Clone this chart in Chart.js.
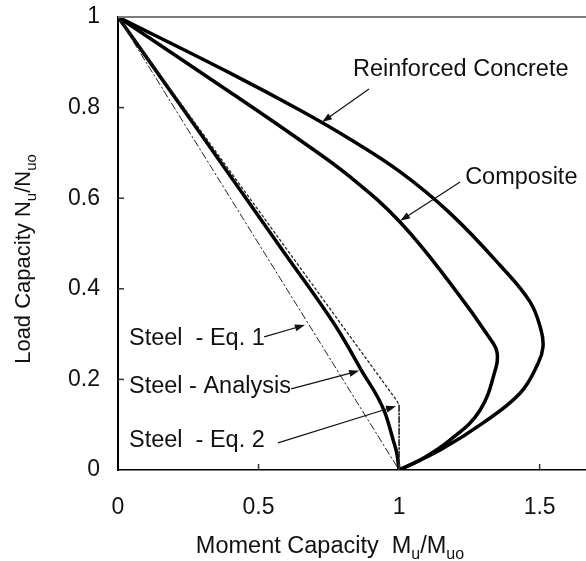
<!DOCTYPE html>
<html>
<head>
<meta charset="utf-8">
<script src="https://cdn.jsdelivr.net/npm/chart.js@4/dist/chart.umd.min.js"></script>
<style>
  html, body { margin: 0; padding: 0; background: #fff; }
  #wrap { width: 586px; height: 561px; }
</style>
</head>
<body>
<div id="wrap"><canvas id="chart" width="586" height="561"></canvas></div>
<script>
// Axis tick values
const xTicks = [0, 0.5, 1, 1.5];
const yTicks = [0, 0.2, 0.4, 0.6, 0.8, 1];

// Interaction curves: [M/Muo, N/Nuo]
const steelEq1 = [[0, 1], [1, 0]];
const steelEq2 = [[0, 1], [0.993, 0.152], [1, 0.143], [1, 0]];
const steelAnalysis = [[0, 1], [0.292, 0.744], [0.584, 0.486], [0.783, 0.309], [0.865, 0.221],
  [0.950, 0.126], [0.979, 0.066], [0.993, 0.033], [1, 0]];
const composite = [[0, 1], [0.399, 0.834], [0.648, 0.728], [0.826, 0.647], [1.004, 0.547],
  [1.181, 0.413], [1.335, 0.280], [1.349, 0.258], [1.345, 0.227], [1.288, 0.132],
  [1.181, 0.066], [1.075, 0.022], [1, 0]];
const reinforcedConcrete = [[0, 1], [0.399, 0.876], [0.648, 0.794], [0.826, 0.730], [1.004, 0.658],
  [1.181, 0.567], [1.359, 0.452], [1.466, 0.371], [1.505, 0.309], [1.512, 0.272],
  [1.495, 0.236], [1.431, 0.170], [1.299, 0.104], [1.146, 0.044], [1, 0]];

// Curve labels with leader arrows, in axis units
const callouts = [
  { text: 'Reinforced Concrete', at: [0.836, 0.883], from: [0.893, 0.841], to: [0.726, 0.768] },
  { text: 'Composite',           at: [1.235, 0.645], from: [1.217, 0.636], to: [1.004, 0.550] },
  { text: 'Steel  - Eq. 1',      at: [0.039, 0.291], from: [0.520, 0.294], to: [0.665, 0.320] },
  { text: 'Steel - Analysis',    at: [0.039, 0.185], from: [0.616, 0.179], to: [0.858, 0.219] },
  { text: 'Steel  - Eq. 2',      at: [0.039, 0.064], from: [0.569, 0.060], to: [0.989, 0.141] }
];

const FONT = '"Liberation Sans", Arial, sans-serif';
const toXY = arr => arr.map(p => ({ x: p[0], y: p[1] }));

function line(data, opts) {
  return Object.assign({
    data: toXY(data), showLine: true, pointRadius: 0, borderColor: '#000',
    backgroundColor: '#000', fill: false, tension: 0.4,
    borderJoinStyle: 'round', borderCapStyle: 'round'
  }, opts);
}

function drawRich(ctx, parts, cx, baseline, size, subSize) {
  const big = size + 'px ' + FONT, small = subSize + 'px ' + FONT;
  let total = 0;
  parts.forEach(p => { ctx.font = p[1] ? small : big; total += ctx.measureText(p[0]).width; });
  let x = cx - total / 2;
  ctx.textAlign = 'left';
  ctx.textBaseline = 'alphabetic';
  parts.forEach(p => {
    ctx.font = p[1] ? small : big;
    ctx.fillText(p[0], x, baseline + (p[1] ? 6 : 0));
    x += ctx.measureText(p[0]).width;
  });
}

function arrow(ctx, x1, y1, x2, y2) {
  const a = Math.atan2(y2 - y1, x2 - x1), len = 10, w = 3.5;
  ctx.beginPath();
  ctx.moveTo(x1, y1);
  ctx.lineTo(x2 - Math.cos(a) * len * 0.8, y2 - Math.sin(a) * len * 0.8);
  ctx.stroke();
  ctx.beginPath();
  ctx.moveTo(x2, y2);
  ctx.lineTo(x2 - Math.cos(a) * len - Math.sin(a) * w, y2 - Math.sin(a) * len + Math.cos(a) * w);
  ctx.lineTo(x2 - Math.cos(a) * len + Math.sin(a) * w, y2 - Math.sin(a) * len - Math.cos(a) * w);
  ctx.closePath();
  ctx.fill();
}

const decorations = {
  id: 'decorations',
  afterDatasetsDraw(chart) {
    const { ctx, chartArea: a, scales: { x, y } } = chart;
    ctx.save();
    // top frame line
    ctx.strokeStyle = '#7a7a7a';
    ctx.lineWidth = 2;
    ctx.beginPath();
    ctx.moveTo(a.left, a.top);
    ctx.lineTo(a.right, a.top);
    ctx.stroke();

    // inward tick marks
    ctx.strokeStyle = '#333';
    ctx.lineWidth = 1.5;
    yTicks.forEach(v => {
      if (v === 0 || v === 1) return;
      const py = y.getPixelForValue(v);
      ctx.beginPath(); ctx.moveTo(a.left, py); ctx.lineTo(a.left + 6, py); ctx.stroke();
    });
    xTicks.forEach(v => {
      if (v === 0) return;
      const px = x.getPixelForValue(v);
      ctx.beginPath(); ctx.moveTo(px, a.bottom); ctx.lineTo(px, a.bottom - 6); ctx.stroke();
    });

    // callouts
    ctx.fillStyle = '#111';
    ctx.strokeStyle = '#111';
    ctx.lineWidth = 1.2;
    callouts.forEach(c => {
      ctx.font = '23.5px ' + FONT;
      ctx.textAlign = 'left';
      ctx.textBaseline = 'middle';
      ctx.fillText(c.text, x.getPixelForValue(c.at[0]), y.getPixelForValue(c.at[1]));
      arrow(ctx, x.getPixelForValue(c.from[0]), y.getPixelForValue(c.from[1]),
                 x.getPixelForValue(c.to[0]), y.getPixelForValue(c.to[1]));
    });

    // axis titles
    drawRich(ctx, [['Moment Capacity  M', false], ['u', true], ['/M', false], ['uo', true]], 330, 553, 23.5, 16);
    ctx.translate(30, 259);
    ctx.rotate(-Math.PI / 2);
    drawRich(ctx, [['Load Capacity N', false], ['u', true], ['/N', false], ['uo', true]], 0, 0, 22, 15);
    ctx.restore();
  }
};

const noPad = s => { s.paddingTop = 0; s.paddingBottom = 0; s.paddingLeft = 0; s.paddingRight = 0; };

new Chart(document.getElementById('chart'), {
  type: 'scatter',
  data: {
    datasets: [
      line(steelEq1, { borderWidth: 1, borderDash: [7, 3, 1.5, 3], tension: 0, borderColor: '#222' }),
      line(steelEq2, { borderWidth: 1.3, borderDash: [2, 3], tension: 0, borderColor: '#222',
        segment: {
          borderDash: c => c.p0DataIndex === 2 ? [6, 2, 1.5, 2] : undefined,
          borderWidth: c => c.p0DataIndex === 2 ? 1.6 : undefined
        } }),
      line(steelAnalysis, { borderWidth: 3.5, cubicInterpolationMode: 'monotone' }),
      line(composite, { borderWidth: 3.5 }),
      line(reinforcedConcrete, { borderWidth: 3.5 })
    ]
  },
  options: {
    responsive: false,
    animation: false,
    devicePixelRatio: 1,
    layout: { padding: { top: 17, right: 0, left: 0, bottom: 0 } },
    plugins: { legend: { display: false }, tooltip: { enabled: false } },
    scales: {
      x: {
        type: 'linear', min: 0, max: 1.665,
        afterBuildTicks: s => { s.ticks = xTicks.map(v => ({ value: v })); },
        afterFit: s => { s.height = 91; noPad(s); },
        grid: { display: false, drawTicks: false },
        border: { display: true, color: '#000', width: 1.5 },
        ticks: { font: { family: FONT, size: 23 }, color: '#111', padding: 24, maxRotation: 0,
                 callback: v => String(v) }
      },
      y: {
        type: 'linear', min: 0, max: 1,
        afterBuildTicks: s => { s.ticks = yTicks.map(v => ({ value: v })); },
        afterFit: s => { s.width = 118; noPad(s); },
        grid: { display: false, drawTicks: false },
        border: { display: true, color: '#000', width: 2 },
        ticks: { font: { family: FONT, size: 23 }, color: '#111', padding: 18,
                 callback: v => String(v) }
      }
    }
  },
  plugins: [decorations]
});
</script>
</body>
</html>
